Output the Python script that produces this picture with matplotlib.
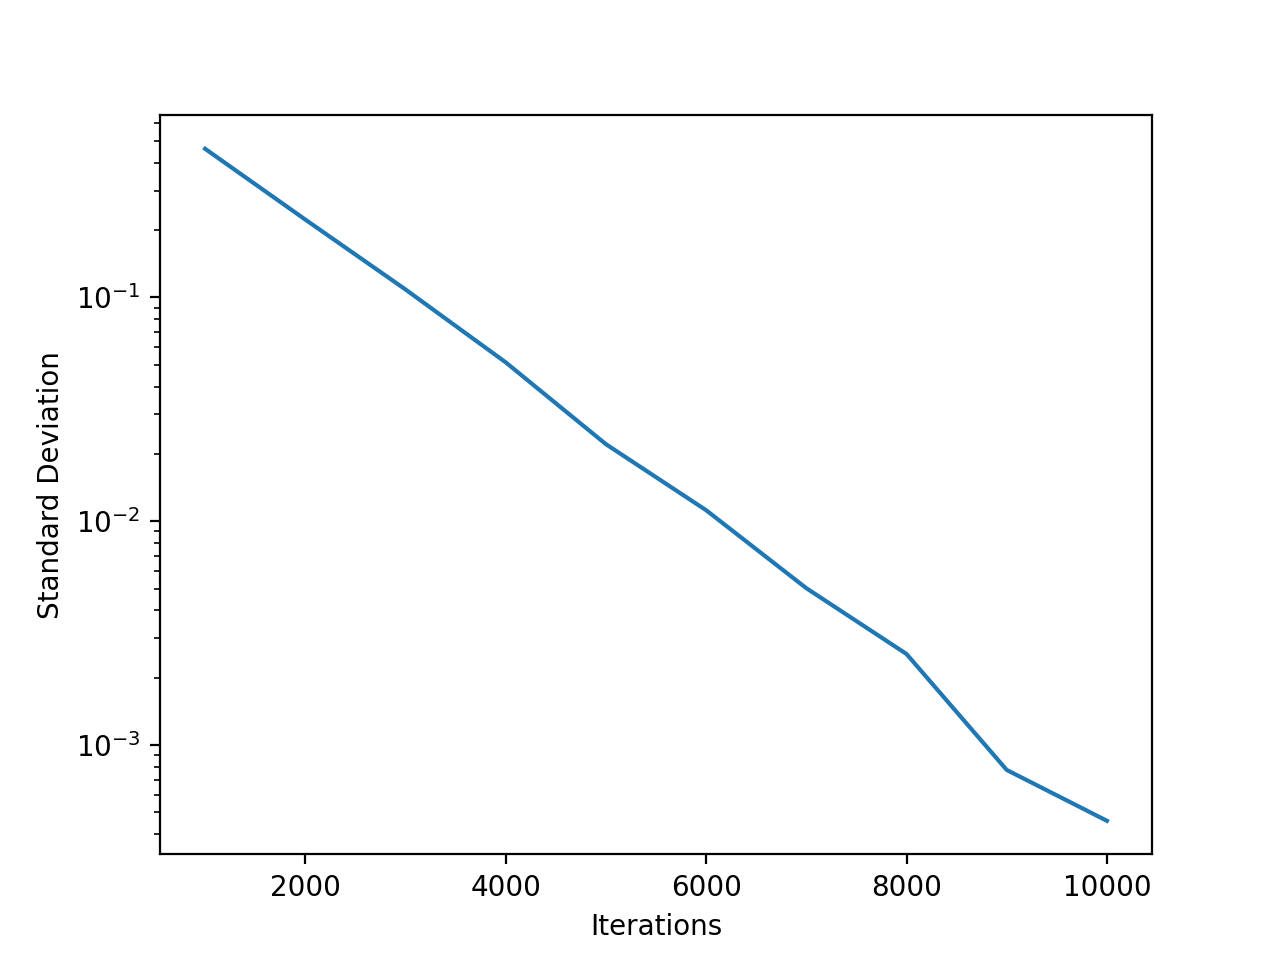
import matplotlib
matplotlib.use("Agg")
import matplotlib.pyplot as plt

iterations = [1000, 2000, 3000, 4000, 5000, 6000, 7000, 8000, 9000, 10000]
std_dev = [0.462, 0.223, 0.1086, 0.0513, 0.0221, 0.0112, 0.00502, 0.00255, 0.000773, 0.000458]

fig, ax = plt.subplots(figsize=(6.4, 4.8), dpi=200)
ax.plot(iterations, std_dev)
ax.set_yscale("log")
ax.set_xlabel("Iterations")
ax.set_ylabel("Standard Deviation")
fig.savefig("out.png")
